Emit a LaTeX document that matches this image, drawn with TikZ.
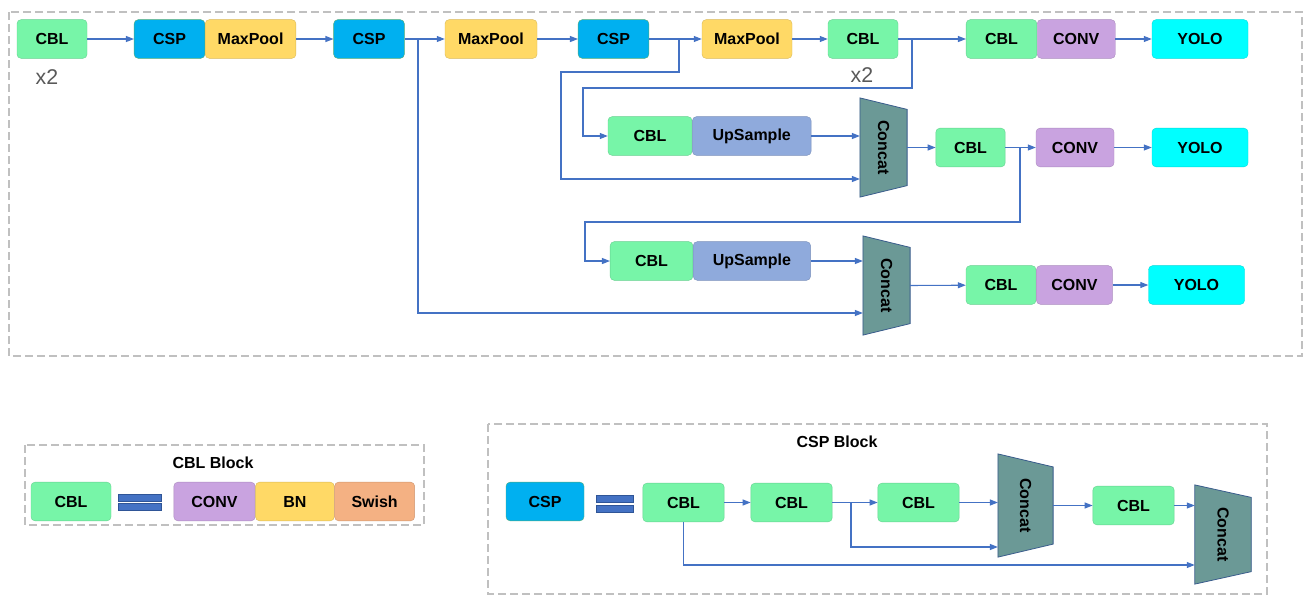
\documentclass[tikz,border=0pt]{standalone}
\usepackage{fontspec}
\setmainfont{Liberation Sans}
\usetikzlibrary{arrows.meta,calc,backgrounds}

\definecolor{cblgreen}{RGB}{119,245,168}
\definecolor{cspblue}{RGB}{0,176,240}
\definecolor{mpyellow}{RGB}{255,217,102}
\definecolor{convpurple}{RGB}{201,163,224}
\definecolor{yolocyan}{RGB}{0,255,255}
\definecolor{upblue}{RGB}{143,170,220}
\definecolor{swishorange}{RGB}{244,177,131}
\definecolor{concatteal}{RGB}{107,153,150}
\definecolor{concatedge}{RGB}{58,92,140}
\definecolor{arrowblue}{RGB}{68,114,196}
\definecolor{eqedge}{RGB}{47,85,151}
\definecolor{boxgray}{RGB}{192,192,192}
\definecolor{textgray}{RGB}{89,89,89}

\tikzset{
	blk/.style={rounded corners=3pt, minimum height=29pt, inner sep=0pt, line width=0.3pt, text=black, font=\fontsize{12}{14}\selectfont\bfseries},
	cbl/.style={blk, fill=cblgreen, draw=cblgreen!85!black},
	csp/.style={blk, fill=cspblue, draw=cblgreen!70!black, minimum width=53pt},
	mp/.style={blk, fill=mpyellow, draw=mpyellow!85!black},
	conv/.style={blk, fill=convpurple, draw=convpurple!85!black},
	yolo/.style={blk, fill=yolocyan, draw=yolocyan!85!black, minimum width=72pt},
	ups/.style={blk, fill=upblue, draw=upblue!85!black},
	concat/.style={rectangle, rotate=-90, inner sep=0pt, text=black, font=\fontsize{12}{14}\selectfont\bfseries},
	concatshape/.style={fill=concatteal, draw=concatedge, line width=0.6pt, line join=miter},
	title/.style={text=black, font=\fontsize{12}{14}\selectfont\bfseries},
	xtimes/.style={text=textgray, font=\fontsize{16}{18}\selectfont},
	arr/.style={draw=arrowblue, line width=0.8pt, -{Triangle[length=6pt,width=4.5pt]}},
	dashbox/.style={draw=boxgray, line width=1.5pt, dash pattern=on 6pt off 3pt},
	eqbar/.style={fill=arrowblue, draw=eqedge, line width=0.4pt},
}

\begin{document}
\begin{tikzpicture}[x=0.75pt, y=-0.75pt]
	\useasboundingbox (0,0) rectangle (1308,597);
	\draw [dashbox] (9,12) rectangle (1302,356);
	\draw [dashbox] (25,445) rectangle (424,525);
	\draw [dashbox] (488,424) rectangle (1267,594);

	\node [cbl, minimum width=52.5pt] (cbla) at (52,39) {CBL};
	\node [xtimes] (rpta) at (47,77) {x2};
	\node [csp] (cspa) at (169.5,39) {CSP};
	\node [mp, anchor=west, minimum width=68pt] (mpa) at (cspa.east) {MaxPool};
	\node [csp] (cspb) at (369,39) {CSP};
	\node [mp, minimum width=69pt] (mpb) at (491,39) {MaxPool};
	\node [csp] (cspc) at (613.5,39) {CSP};
	\node [mp, minimum width=67.5pt] (mpc) at (747,39) {MaxPool};
	\node [cbl, minimum width=52.5pt] (cblb) at (863,39) {CBL};
	\node [xtimes] (rptb) at (862,75) {x2};
	\node [cbl, minimum width=53pt] (cblc) at (1001.5,39) {CBL};
	\node [conv, anchor=west, minimum width=58.5pt] (conva) at (cblc.east) {CONV};
	\node [yolo] (yoloa) at (1200,39) {YOLO};

	\node [cbl, minimum width=63pt] (cbld) at (650,136) {CBL};
	\node [ups, anchor=west, minimum width=89pt] (upa) at (cbld.east) {UpSample};
	\node [concat, minimum width=74pt, minimum height=35pt] (cca) at (883.5,147.5) {Concat};
	\node [cbl, minimum width=52pt] (cble) at (970.5,147.5) {CBL};
	\node [conv, minimum width=58.5pt] (convb) at (1075,147.5) {CONV};
	\node [yolo] (yolob) at (1200,147.5) {YOLO};

	\node [cbl, minimum width=62pt] (cblf) at (651.5,261) {CBL};
	\node [ups, anchor=west, minimum width=88pt] (upb) at (cblf.east) {UpSample};
	\node [concat, minimum width=74pt, minimum height=35pt] (ccb) at (886.5,285.5) {Concat};
	\node [cbl, minimum width=52.5pt] (cblg) at (1001,285) {CBL};
	\node [conv, anchor=west, minimum width=57pt] (convc) at (cblg.east) {CONV};
	\node [yolo] (yoloc) at (1196.5,285) {YOLO};

	\coordinate (b1) at (418,39);
	\coordinate (b2) at (679,39);
	\coordinate (b3) at (912,39);
	\coordinate (b4) at (1020,147.5);

	\foreach \a/\b in {cbla/cspa, mpa/cspb, cspb/mpb, mpb/cspc, cspc/mpc, mpc/cblb, cblb/cblc, conva/yoloa, cble/convb, convb/yolob, convc/yoloc}
		\draw [arr] (\a) -- (\b);
	\draw [arr] (upa.east) -- (upa.east -| cca.south);
	\draw [arr] (upb.east) -- (upb.east -| ccb.south);
	\draw [arr] (cca.north) -- (cble);
	\draw [arr] (ccb.north) -- (cblg);
	\draw [arr] (b1) |- ($(ccb.south)+(0,27.5)$);
	\draw [arr] (b2) |- (561,72) |- ($(cca.south)+(0,31.5)$);
	\draw [arr] (b3) |- (583,88) |- (cbld.west);
	\draw [arr] (b4) |- (585,222) |- (cblf.west);

	\node [title] (cbltitle) at (213,463) {CBL Block};
	\node [cbl, minimum width=60pt] (cblh) at (71,501.5) {CBL};
	\foreach \y in {494,503}
		\draw [eqbar] (118,\y) rectangle ++(43,7);
	\node [conv, minimum width=61pt] (convd) at (214.5,501.5) {CONV};
	\node [mp, anchor=west, minimum width=59pt] (bn) at (convd.east) {BN};
	\node [blk, fill=swishorange, draw=swishorange!85!black, anchor=west, minimum width=60pt] (swish) at (bn.east) {Swish};

	\node [title] (csptitle) at (837,442) {CSP Block};
	\node [csp, minimum width=58.5pt] (cspd) at (545,501.5) {CSP};
	\foreach \y in {495,505}
		\draw [eqbar] (596,\y) rectangle ++(37,7);
	\node [cbl, minimum width=61pt] (cbli) at (683.5,502.5) {CBL};
	\node [cbl, minimum width=61pt] (cblj) at (791.5,502.5) {CBL};
	\node [cbl, minimum width=61pt] (cblk) at (918.5,502.5) {CBL};
	\node [concat, minimum width=77pt, minimum height=41pt] (ccc) at (1025.5,505.5) {Concat};
	\node [cbl, minimum width=61pt] (cbll) at (1133.5,505.5) {CBL};
	\node [concat, minimum width=74pt, minimum height=42pt] (ccd) at (1223,534.5) {Concat};
	\coordinate (b5) at (851,502.5);

	\draw [arr] (cbli) -- (cblj);
	\draw [arr] (cblj) -- (cblk);
	\draw [arr] (cblk.east) -- (cblk.east -| ccc.south);
	\draw [arr] (ccc.north) -- (cbll);
	\draw [arr] (cbll.east) -- (cbll.east -| ccd.south);
	\draw [arr] (b5) |- ($(ccc.south)+(0,41.5)$);
	\draw [arr] (cbli.south) |- ($(ccd.south)+(0,30.5)$);

	\begin{scope}[on background layer]
		\foreach \c/\d in {cca/11.5, ccb/11.5, ccc/13, ccd/12.5}
			\draw [concatshape] (\c.south west) -- (\c.south east) -- ($(\c.north east)+(0,-\d)$) -- ($(\c.north west)+(0,\d)$) -- cycle;
	\end{scope}
\end{tikzpicture}
\end{document}
